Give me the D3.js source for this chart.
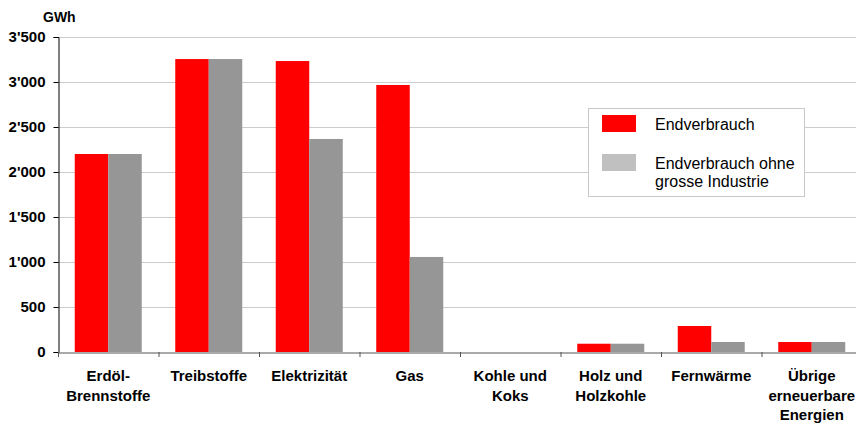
<!DOCTYPE html>
<html>
<head>
<meta charset="utf-8">
<script src="https://d3js.org/d3.v7.min.js"></script>
<style>
  body { margin: 0; background: #fff; }
  svg { font-family: Arial, "Liberation Sans", sans-serif; }
</style>
</head>
<body>
<script>
// data (GWh)
var categories = [["Erdöl-", "Brennstoffe"], ["Treibstoffe"], ["Elektrizität"], ["Gas"],
                  ["Kohle und", "Koks"], ["Holz und", "Holzkohle"], ["Fernwärme"],
                  ["Übrige", "erneuerbare", "Energien"]];
var endverbrauch = [2200, 3255, 3233, 2967, 0, 92, 289, 111];
var ohneIndustrie = [2200, 3255, 2367, 1056, 0, 92, 111, 111];
var seriesNames = ["Endverbrauch", ["Endverbrauch ohne", "grosse Industrie"]];
var yTicks = [0, 500, 1000, 1500, 2000, 2500, 3000, 3500];

var W = 856, H = 425;
var plotLeft = 58, plotTop = 37, plotRight = 862, plotBottom = 352;

var svg = d3.select("body").append("svg")
    .attr("width", W).attr("height", H);

var x = d3.scaleBand()
    .domain(d3.range(categories.length))
    .range([plotLeft, plotRight])
    .paddingInner(0).paddingOuter(0);

var inner = d3.scaleBand()
    .domain([0, 1])
    .range([0, x.bandwidth()])
    .paddingOuter(0.5).paddingInner(0);

var y = d3.scaleLinear().domain([0, 3500]).range([plotBottom, plotTop]);

var fmt = function(v) { return d3.format(",")(v).replace(/,/g, "'"); };

// gridlines
svg.append("g").selectAll("line")
    .data(yTicks.filter(function(d) { return d > 0; }))
    .enter().append("line")
    .attr("x1", plotLeft).attr("x2", W)
    .attr("y1", function(d) { return y(d) + 0.5; })
    .attr("y2", function(d) { return y(d) + 0.5; })
    .attr("stroke", "#cccccc").attr("stroke-width", 1);

// bars
var groups = svg.append("g").selectAll("g")
    .data(categories.map(function(c, i) { return [endverbrauch[i], ohneIndustrie[i]]; }))
    .enter().append("g")
    .attr("transform", function(d, i) { return "translate(" + x(i) + ",0)"; });

groups.selectAll("rect")
    .data(function(d) { return d; })
    .enter().append("rect")
    .attr("x", function(d, j) { return inner(j); })
    .attr("width", inner.bandwidth())
    .attr("y", function(d) { return y(d); })
    .attr("height", function(d) { return plotBottom - y(d); })
    .attr("fill", function(d, j) { return j === 0 ? "#ff0000" : "#969696"; });

// y axis
var yAxis = svg.append("g")
    .attr("transform", "translate(" + (plotLeft + 0.5) + ",0)")
    .call(d3.axisLeft(y).tickValues(yTicks).tickSize(5).tickPadding(8).tickFormat(fmt));
yAxis.select(".domain").attr("stroke", "#000");
yAxis.selectAll(".tick line").attr("stroke", "#000");
yAxis.selectAll("text")
    .attr("font-size", 15).attr("font-weight", "bold").attr("fill", "#000")
    .attr("font-family", "Arial, 'Liberation Sans', sans-serif");

// x axis
var xAxis = svg.append("g")
    .attr("transform", "translate(0," + (plotBottom + 0.5) + ")")
    .call(d3.axisBottom(x).tickSize(0).tickFormat(""));
xAxis.select(".domain").attr("stroke", "#555");
xAxis.selectAll(".tick").remove();

svg.append("g").selectAll("line")
    .data(d3.range(categories.length + 1))
    .enter().append("line")
    .attr("x1", function(i) { return plotLeft + i * x.bandwidth() + 0.5; })
    .attr("x2", function(i) { return plotLeft + i * x.bandwidth() + 0.5; })
    .attr("y1", plotBottom).attr("y2", plotBottom + 5)
    .attr("stroke", "#555");

// category labels
var labels = svg.append("g").selectAll("text")
    .data(categories)
    .enter().append("text")
    .attr("x", function(d, i) { return x(i) + x.bandwidth() / 2; })
    .attr("y", 381)
    .attr("text-anchor", "middle")
    .attr("font-size", 15).attr("font-weight", "bold").attr("fill", "#000");
labels.selectAll("tspan")
    .data(function(d) { return d; })
    .enter().append("tspan")
    .attr("x", function() { return this.parentNode.getAttribute("x"); })
    .attr("dy", function(d, k) { return k === 0 ? 0 : 19.5; })
    .text(function(d) { return d; });

// unit label
svg.append("text")
    .attr("x", 43).attr("y", 22)
    .attr("font-size", 14).attr("font-weight", "bold")
    .text("GWh");

// legend
var lg = svg.append("g");
lg.append("rect")
    .attr("x", 588.5).attr("y", 108.5).attr("width", 216).attr("height", 88)
    .attr("fill", "#fff").attr("stroke", "#c8c8c8");
var swatch = ["#ff0000", "#c0c0c0"];
var sy = [115, 154];
seriesNames.forEach(function(n, i) {
    lg.append("rect")
        .attr("x", 602).attr("y", sy[i]).attr("width", 34).attr("height", 17)
        .attr("fill", swatch[i]);
    var lines = Array.isArray(n) ? n : [n];
    var t = lg.append("text")
        .attr("x", 655).attr("y", sy[i] + 14.5)
        .attr("font-size", 16).attr("fill", "#000");
    lines.forEach(function(s, k) {
        t.append("tspan").attr("x", 655).attr("dy", k === 0 ? 0 : 18.5).text(s);
    });
});
</script>
</body>
</html>
